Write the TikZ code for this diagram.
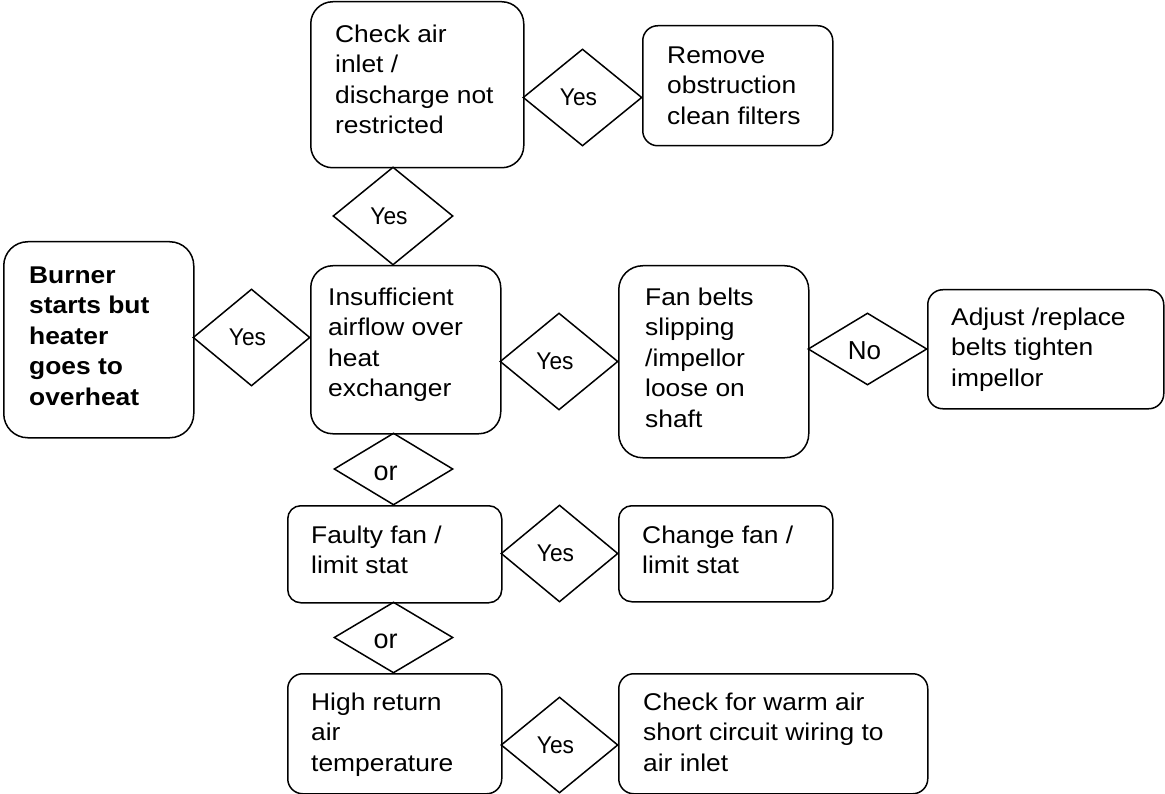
\documentclass[tikz,border=0pt]{standalone}
\usepackage{fontspec}
\setmainfont{Liberation Sans}
\newfontfamily\boxfont[FakeStretch=1.09]{Liberation Sans}
\newfontfamily\dfont[FakeStretch=0.94]{Liberation Sans}
\usetikzlibrary{shapes.geometric}
\tikzset{
  box/.style={draw, line width=1.5pt, inner sep=0pt, anchor=north west},
  txt/.style={inner sep=0pt, anchor=north west, align=left,
    font=\boxfont\fontsize{24.2}{30.5}\selectfont},
  dia/.style={draw, diamond, line width=1.5pt, inner sep=0pt},
  yeslbl/.style={font=\dfont\fontsize{24.2}{29}\selectfont, xshift=-4pt},
  nolbl/.style={font=\rmfamily\fontsize{26}{30}\selectfont, xshift=-3pt, yshift=-2pt},
  orlbl/.style={font=\rmfamily\fontsize{27}{31}\selectfont, xshift=-8pt, yshift=-4pt}
}
\newcommand{\fl}{\rule{0pt}{20pt}}
\begin{document}
\begin{tikzpicture}[x=1pt,y=-1pt]
\fill[white] (0,0) rectangle (1165,794);
\useasboundingbox (0,0) rectangle (1165,794);
% boxes
\node[box, minimum width=213pt, minimum height=166pt, rounded corners=22pt] (chk) at (310,1) {};
\node[box, minimum width=190pt, minimum height=120pt, rounded corners=15pt] (rem) at (642,25) {};
\node[box, minimum width=190pt, minimum height=196pt, rounded corners=24pt] (burn) at (3,241) {};
\node[box, minimum width=190pt, minimum height=168pt, rounded corners=22pt] (ins) at (310,265) {};
\node[box, minimum width=190pt, minimum height=192pt, rounded corners=24pt] (fan) at (618,265) {};
\node[box, minimum width=236pt, minimum height=119pt, rounded corners=15pt] (adj) at (927,289) {};
\node[box, minimum width=214pt, minimum height=97pt, rounded corners=13pt] (fau) at (287,505) {};
\node[box, minimum width=214pt, minimum height=96pt, rounded corners=13pt] (chg) at (618,505) {};
\node[box, minimum width=214pt, minimum height=120pt, rounded corners=15pt] (hig) at (287,673) {};
\node[box, minimum width=309pt, minimum height=120pt, rounded corners=15pt] (war) at (618,673) {};
% texts
\node[txt] (tchk) at (335,22) {\fl Check air\\inlet /\\discharge not\\restricted};
\node[txt] (trem) at (667,43) {\fl Remove\\obstruction\\clean filters};
\node[txt, font=\boxfont\bfseries\fontsize{24.2}{30.5}\selectfont] (tburn) at (29,263) {\fl Burner\\starts but\\heater\\goes to\\overheat};
\node[txt] (tins) at (328,285) {\fl Insufficient\\airflow over\\heat\\exchanger};
\node[txt] (tfan) at (645,285) {\fl Fan belts\\slipping\\/impellor\\loose on\\shaft};
\node[txt] (tadj) at (951,305) {\fl Adjust /replace\\belts tighten\\impellor};
\node[txt] (tfau) at (311,523) {\fl Faulty fan /\\limit stat};
\node[txt] (tchg) at (642,523) {\fl Change fan /\\limit stat};
\node[txt] (thig) at (311,690) {\fl High return\\air\\temperature};
\node[txt] (twar) at (643,690) {\fl Check for warm air\\short circuit wiring to\\air inlet};
% diamonds
\node[dia, minimum width=119pt, minimum height=97pt] (d1) at (582.5,97.5) {};
\node[dia, minimum width=120pt, minimum height=98pt] (d2) at (393,216) {};
\node[dia, minimum width=117pt, minimum height=97pt] (d3) at (251.5,337.5) {};
\node[dia, minimum width=118pt, minimum height=97pt] (d4) at (559,361.5) {};
\node[dia, minimum width=119pt, minimum height=72pt] (d5) at (867.5,349) {};
\node[dia, minimum width=119pt, minimum height=72pt] (d6) at (393.5,469) {};
\node[dia, minimum width=117pt, minimum height=97pt] (d7) at (559.5,553.5) {};
\node[dia, minimum width=119pt, minimum height=71pt] (d8) at (393.5,637.5) {};
\node[dia, minimum width=117pt, minimum height=96pt] (d9) at (559.5,745) {};
% diamond labels
\node[yeslbl] (l1) at (d1.center) {Yes};
\node[yeslbl] (l2) at (d2.center) {Yes};
\node[yeslbl] (l3) at (d3.center) {Yes};
\node[yeslbl] (l4) at (d4.center) {Yes};
\node[nolbl] (l5) at (d5.center) {No};
\node[orlbl] (l6) at (d6.center) {or};
\node[yeslbl] (l7) at (d7.center) {Yes};
\node[orlbl] (l8) at (d8.center) {or};
\node[yeslbl] (l9) at (d9.center) {Yes};
\end{tikzpicture}
\end{document}
